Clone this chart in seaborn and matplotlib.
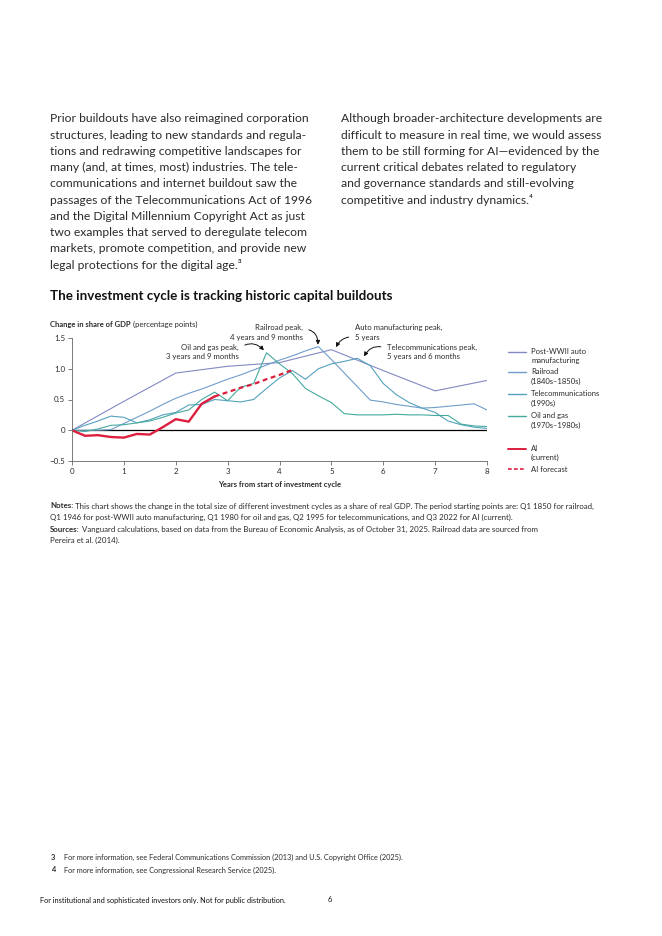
import numpy as np
import pandas as pd
import matplotlib.pyplot as plt
import seaborn as sns
from matplotlib.lines import Line2D

# ---- data ----
quarters = [i / 4 for i in range(33)]

auto_x = [0, 1, 2, 3, 4, 5, 6, 7, 8]
auto_y = [0, 0.47, 0.93, 1.04, 1.10, 1.31, 0.97, 0.64, 0.81]

railroad_y = [0, 0.0, 0.0, 0.01, 0.11, 0.21, 0.31, 0.42, 0.52, 0.60, 0.67, 0.75,
              0.83, 0.90, 0.98, 1.06, 1.14, 1.21, 1.29, 1.36, 1.15, 0.93, 0.71,
              0.49, 0.46, 0.42, 0.39, 0.36, 0.37, 0.39, 0.41, 0.43, 0.33]

telecom_y = [0, 0.08, 0.15, 0.23, 0.21, 0.12, 0.17, 0.25, 0.29, 0.41, 0.42, 0.50,
             0.48, 0.46, 0.50, 0.68, 0.85, 0.97, 0.83, 1.00, 1.08, 1.12, 1.17,
             1.05, 0.76, 0.58, 0.45, 0.36, 0.29, 0.15, 0.09, 0.05, 0.03]

oil_y = [0, -0.02, 0.02, 0.08, 0.09, 0.12, 0.15, 0.21, 0.28, 0.33, 0.50, 0.62,
         0.48, 0.70, 0.76, 1.26, 1.08, 0.92, 0.68, 0.56, 0.45, 0.27, 0.25,
         0.25, 0.25, 0.26, 0.25, 0.25, 0.24, 0.24, 0.10, 0.07, 0.06]

ai_x = [0, 0.25, 0.5, 0.75, 1.0, 1.25, 1.5, 1.75, 2.0, 2.25, 2.5, 2.75]
ai_y = [0, -0.09, -0.08, -0.11, -0.12, -0.06, -0.07, 0.05, 0.18, 0.14, 0.43, 0.55]

fc_x = [2.75, 3.0, 3.25, 3.5, 3.75, 4.0, 4.25]
fc_y = [0.55, 0.62, 0.69, 0.75, 0.83, 0.90, 0.98]

x_ticks = [0, 1, 2, 3, 4, 5, 6, 7, 8]
y_ticks = [-0.5, 0, 0.5, 1.0, 1.5]
y_labels = ["\u22120.5", "0", "0.5", "1.0", "1.5"]

c_auto = "#8389c3"
c_rail = "#709dcb"
c_tele = "#55a2bd"
c_oil = "#45aa9e"
c_ai = "#dc1f3e"

sns.set_style("white")
plt.rcParams["font.family"] = ["Lato", "DejaVu Sans"]

W, H = 662, 936
fig = plt.figure(figsize=(W / 100, H / 100), dpi=100)


def fx(px):
    return px / W


def fy(py):
    return 1 - py / H


txt = "#2b2b2b"

# ---- body text ----
col1 = ["Prior buildouts have also reimagined corporation",
        "structures, leading to new standards and regula-",
        "tions and redrawing competitive landscapes for",
        "many (and, at times, most) industries. The tele-",
        "communications and internet buildout saw the",
        "passages of the Telecommunications Act of 1996",
        "and the Digital Millennium Copyright Act as just",
        "two examples that served to deregulate telecom",
        "markets, promote competition, and provide new",
        "legal protections for the digital age.\u00b3"]
col2 = ["Although broader-architecture developments are",
        "difficult to measure in real time, we would assess",
        "them to be still forming for AI\u2014evidenced by the",
        "current critical debates related to regulatory",
        "and governance standards and still-evolving",
        "competitive and industry dynamics.\u2074"]
for i, line in enumerate(col1):
    fig.text(fx(50), fy(119 + i * 16.2), line, fontsize=8.75, color=txt, va="center")
for i, line in enumerate(col2):
    fig.text(fx(341), fy(119 + i * 16.2), line, fontsize=8.75, color=txt, va="center")

fig.text(fx(50), fy(296), "The investment cycle is tracking historic capital buildouts",
         fontsize=9.6, fontweight="bold", color="#111111", va="center")

renderer = fig.canvas.get_renderer()


def mixed(x, y, bold, normal, size, color=txt):
    t = fig.text(fx(x), fy(y), bold, fontsize=size, fontweight="bold", color=color, va="center")
    w = t.get_window_extent(renderer=renderer).width
    fig.text(fx(x) + w / W, fy(y), normal, fontsize=size, color=color, va="center")


mixed(50, 324, "Change in share of GDP", " (percentage points)", 5.5)

# ---- chart ----
ax = fig.add_axes([fx(72), fy(461), fx(487) - fx(72), fy(338) - fy(461)])
df_q = pd.DataFrame({"x": quarters, "rail": railroad_y, "tele": telecom_y, "oil": oil_y})
lw = 0.8
sns.lineplot(x=auto_x, y=auto_y, ax=ax, color=c_auto, lw=lw)
sns.lineplot(data=df_q, x="x", y="rail", ax=ax, color=c_rail, lw=lw)
sns.lineplot(data=df_q, x="x", y="tele", ax=ax, color=c_tele, lw=lw)
sns.lineplot(data=df_q, x="x", y="oil", ax=ax, color=c_oil, lw=lw)
sns.lineplot(x=fc_x, y=fc_y, ax=ax, color=c_ai, lw=1.6, dashes=False, linestyle=(0, (2.2, 1.6)))
sns.lineplot(x=ai_x, y=ai_y, ax=ax, color=c_ai, lw=1.7)
ax.axhline(0, color="black", lw=0.9, zorder=1)

ax.set_xlim(0, 8)
ax.set_ylim(-0.5, 1.5)
ax.set_xticks(x_ticks)
ax.set_yticks(y_ticks)
ax.set_yticklabels(y_labels)
ax.set_ylabel("")
ax.set_xlabel("Years from start of investment cycle", fontsize=5.5, fontweight="bold",
              color=txt, labelpad=4)
for s in ["top", "right"]:
    ax.spines[s].set_visible(False)
for s in ["left", "bottom"]:
    ax.spines[s].set_color("#666666")
    ax.spines[s].set_linewidth(0.6)
ax.tick_params(axis="both", labelsize=5.7, colors="#666666", length=3, width=0.6,
               labelcolor=txt, pad=2, direction="out")
ax.tick_params(left=True, bottom=True)

# peak annotations
ann_kw = dict(fontsize=5.6, color=txt, annotation_clip=False, va="center", linespacing=1.35)


def arrow(rad, rel):
    return dict(arrowstyle="-|>", color="#111111", lw=0.7, mutation_scale=6,
                connectionstyle=f"arc3,rad={rad}", relpos=rel, shrinkA=2, shrinkB=0)


ax.annotate("Railroad peak,\n4 years and 9 months", xy=(4.74, 1.39), xytext=(4.45, 1.59),
            ha="right", arrowprops=arrow(-0.5, (1.0, 0.72)), **ann_kw)
ax.annotate("Auto manufacturing peak,\n5 years", xy=(5.09, 1.35), xytext=(5.45, 1.59),
            ha="left", arrowprops=arrow(0.35, (0.0, 0.22)), **ann_kw)
ax.annotate("Oil and gas peak,\n3 years and 9 months", xy=(3.7, 1.3), xytext=(3.22, 1.27),
            ha="right", arrowprops=arrow(-0.45, (1.0, 0.72)), **ann_kw)
ax.annotate("Telecommunications peak,\n5 years and 6 months", xy=(5.63, 1.2), xytext=(6.07, 1.27),
            ha="left", arrowprops=arrow(0.45, (0.0, 0.72)), **ann_kw)

# ---- legend ----
leg = [("Post-WWII auto\nmanufacturing", c_auto, "-", 356, 1.0),
       ("Railroad\n(1840s\u20131850s)", c_rail, "-", 376.5, 1.0),
       ("Telecommunications\n(1990s)", c_tele, "-", 398.5, 1.0),
       ("Oil and gas\n(1970s\u20131980s)", c_oil, "-", 420.5, 1.0),
       ("AI\n(current)", c_ai, "-", 453, 1.4),
       ("AI forecast", c_ai, "--", 469, 1.2)]
for label, col, ls, ypx, w in leg:
    yl = ypx if "\n" not in label else ypx - 4.3
    fig.add_artist(Line2D([fx(508), fx(526)], [fy(yl), fy(yl)], color=col, lw=w,
                          linestyle=ls if ls == "-" else (0, (2.2, 1.4))))
    fig.text(fx(531), fy(ypx), label, fontsize=5.5, color=txt, va="center", linespacing=1.35)

# ---- notes ----
ns = 5.65
mixed(50, 506, "Notes:", " This chart shows the change in the total size of different investment cycles as a share of real GDP. The period starting points are: Q1 1850 for railroad,", ns)
fig.text(fx(50), fy(517.5), "Q1 1946 for post-WWII auto manufacturing, Q1 1980 for oil and gas, Q2 1995 for telecommunications, and Q3 2022 for AI (current).",
         fontsize=ns, color=txt, va="center")
mixed(50, 529, "Sources:", " Vanguard calculations, based on data from the Bureau of Economic Analysis, as of October 31, 2025. Railroad data are sourced from", ns)
fig.text(fx(50), fy(540.5), "Pereira et al. (2014).", fontsize=ns, color=txt, va="center")

# ---- footnotes ----
fig.text(fx(51), fy(857), "3", fontsize=5.4, fontweight="bold", color=txt, va="center")
fig.text(fx(64), fy(857), "For more information, see Federal Communications Commission (2013) and U.S. Copyright Office (2025).",
         fontsize=5.35, color=txt, va="center")
fig.text(fx(51), fy(870), "4", fontsize=5.4, fontweight="bold", color=txt, va="center")
fig.text(fx(64), fy(870), "For more information, see Congressional Research Service (2025).",
         fontsize=5.35, color=txt, va="center")
fig.text(fx(40), fy(900), "For institutional and sophisticated investors only. Not for public distribution.",
         fontsize=5.35, color="#111111", va="center")
fig.text(fx(328), fy(900), "6", fontsize=5.4, color="#111111", va="center")

fig.savefig("out.png", dpi=100, facecolor="white")
